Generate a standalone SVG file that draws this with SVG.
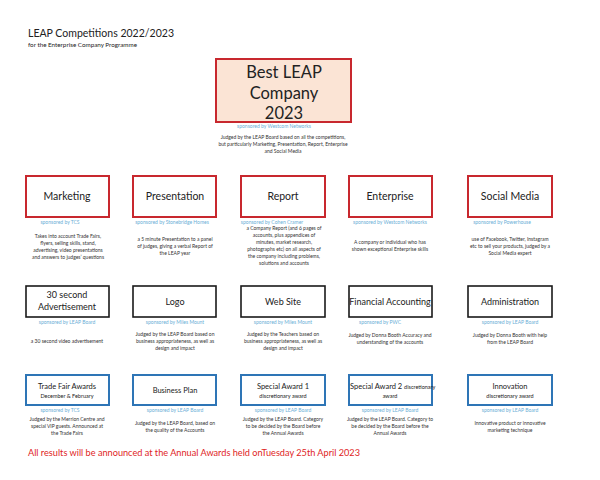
<svg xmlns="http://www.w3.org/2000/svg" width="600" height="480" viewBox="0 0 600 480">
<style>
text { font-family: Lato, "Open Sans", "Liberation Sans", sans-serif; }
.br { fill: #fff; stroke: #c8282e; stroke-width: 2; }
.bk { fill: #fff; stroke: #1a1a1a; stroke-width: 1.6; }
.bb { fill: #fff; stroke: #2e75b6; stroke-width: 2; }
.top { fill: #fbe4d5; stroke: #c8282e; stroke-width: 2; }
.l1 { font-size: 10.5px; fill: #222; text-anchor: middle; }
.l2 { font-size: 9px; fill: #222; text-anchor: middle; }
.l3 { font-size: 7.5px; fill: #222; text-anchor: middle; }
.l3s { font-size: 5.5px; fill: #222; text-anchor: middle; }
.sp { font-size: 5px; fill: #6aaed6; text-anchor: middle; }
.d { font-size: 5px; fill: #333; text-anchor: middle; }
</style>
<rect width="600" height="480" fill="#fff"/>
<g id="title">
<text x="28" y="37" font-size="11.5" fill="#222" textLength="146" lengthAdjust="spacingAndGlyphs">LEAP Competitions 2022/2023</text>
<text x="28" y="47" font-size="5.8" fill="#222" textLength="109" lengthAdjust="spacingAndGlyphs">for the Enterprise Company Programme</text>
</g>
<g id="best">
<rect class="top" x="216" y="59" width="135" height="63"/>
<text x="284" y="78" font-size="16.5" fill="#222" text-anchor="middle">Best LEAP</text>
<text x="284" y="98.5" font-size="16.5" fill="#222" text-anchor="middle">Company</text>
<text x="284" y="119" font-size="16.5" fill="#222" text-anchor="middle">2023</text>
<text class="sp" x="274" y="128">sponsored by Westcom Networks</text>
<text class="d" x="283" y="139">Judged by the LEAP Board based on all the competitions,</text>
<text class="d" x="283" y="146">but particularly Marketing, Presentation, Report, Enterprise</text>
<text class="d" x="283" y="153">and Social Media</text>
</g>
<g id="marketing">
<rect class="br" x="26" y="176" width="83" height="41"/>
<text class="l1" x="67" y="200">Marketing</text>
<text class="sp" x="60" y="224">sponsored by TCS</text>
<text class="d" x="68" y="238">Takes into account Trade Fairs,</text>
<text class="d" x="68" y="245">flyers, selling skills, stand,</text>
<text class="d" x="68" y="252">advertising, video presentations</text>
<text class="d" x="68" y="259">and answers to judges’ questions</text>
</g>
<g id="presentation">
<rect class="br" x="133" y="176" width="83" height="41"/>
<text class="l1" x="175" y="200">Presentation</text>
<text class="sp" x="172" y="224">sponsored by Stonebridge Homes</text>
<text class="d" x="175" y="241">a 5 minute Presentation to a panel</text>
<text class="d" x="175" y="248">of judges, giving a verbal Report of</text>
<text class="d" x="175" y="255">the LEAP year</text>
</g>
<g id="report">
<rect class="br" x="241" y="176" width="84" height="41"/>
<text class="l1" x="283" y="200">Report</text>
<text class="sp" x="272" y="224">sponsored by Cohen Cramer</text>
<text class="d" x="284" y="229.5">a Company Report (and 6 pages of</text>
<text class="d" x="284" y="236.5">accounts, plus appendices of</text>
<text class="d" x="284" y="243.5">minutes, market research,</text>
<text class="d" x="284" y="251">photographs etc) on all aspects of</text>
<text class="d" x="284" y="258">the company including problems,</text>
<text class="d" x="284" y="265">solutions and accounts</text>
</g>
<g id="enterprise">
<rect class="br" x="349" y="176" width="83" height="41"/>
<text class="l1" x="390" y="200">Enterprise</text>
<text class="sp" x="390" y="224">sponsored by Westcom Networks</text>
<text class="d" x="390" y="244">A company or individual who has</text>
<text class="d" x="390" y="251">shown exceptional Enterprise skills</text>
</g>
<g id="social-media">
<rect class="br" x="468" y="176" width="84" height="41"/>
<text class="l1" x="510" y="200">Social Media</text>
<text class="sp" x="502" y="224">sponsored by Powerhouse</text>
<text class="d" x="510" y="241">use of Facebook, Twitter, Instagram</text>
<text class="d" x="510" y="248">etc to sell your products, judged by a</text>
<text class="d" x="510" y="255">Social Media expert</text>
</g>
<g id="advertisement">
<rect class="bk" x="26" y="286" width="83" height="31"/>
<text class="l2" x="67" y="298">30 second</text>
<text class="l2" x="67" y="310">Advertisement</text>
<text class="sp" x="67" y="324">sponsored by LEAP Board</text>
<text class="d" x="67" y="343">a 30 second video advertisement</text>
</g>
<g id="logo">
<rect class="bk" x="133" y="286" width="83" height="31"/>
<text class="l2" x="175" y="305">Logo</text>
<text class="sp" x="175" y="324">sponsored by Miles Mount</text>
<text class="d" x="175" y="336">Judged by the LEAP Board based on</text>
<text class="d" x="175" y="343">business appropriateness, as well as</text>
<text class="d" x="175" y="350">design and impact</text>
</g>
<g id="web-site">
<rect class="bk" x="241" y="286" width="84" height="31"/>
<text class="l2" x="283" y="305">Web Site</text>
<text class="sp" x="283" y="324">sponsored by Miles Mount</text>
<text class="d" x="283" y="336">Judged by the Teachers based on</text>
<text class="d" x="283" y="343">business appropriateness, as well as</text>
<text class="d" x="283" y="350">design and impact</text>
</g>
<g id="financial-accounting">
<rect class="bk" x="349" y="286" width="83" height="31"/>
<text class="l2" x="390" y="305">Financial Accounting</text>
<text class="sp" x="380" y="324">sponsored by PWC</text>
<text class="d" x="390" y="337">Judged by Donna Booth  Accuracy and</text>
<text class="d" x="390" y="344">understanding of the accounts</text>
</g>
<g id="administration">
<rect class="bk" x="468" y="286" width="84" height="31"/>
<text class="l2" x="510" y="305">Administration</text>
<text class="sp" x="510" y="324">sponsored by LEAP Board</text>
<text class="d" x="510" y="337">Judged by Donna Booth with help</text>
<text class="d" x="510" y="344">from the LEAP Board</text>
</g>
<g id="trade-fair">
<rect class="bb" x="26" y="375" width="83" height="30"/>
<text class="l3" x="67" y="389">Trade Fair Awards</text>
<text class="l3s" x="67" y="398">December &amp; February</text>
<text class="sp" x="60" y="412">sponsored by TCS</text>
<text class="d" x="67" y="421">Judged by the Merrion Centre and</text>
<text class="d" x="67" y="428">special VIP guests.   Announced at</text>
<text class="d" x="67" y="435">the Trade Fairs</text>
</g>
<g id="business-plan">
<rect class="bb" x="133" y="375" width="83" height="30"/>
<text class="l3" x="175" y="393">Business Plan</text>
<text class="sp" x="175" y="412">sponsored by LEAP Board</text>
<text class="d" x="175" y="425">Judged by the LEAP Board, based on</text>
<text class="d" x="175" y="432">the quality of the Accounts</text>
</g>
<g id="special-award-1">
<rect class="bb" x="241" y="375" width="84" height="30"/>
<text class="l3" x="283" y="389">Special Award 1</text>
<text class="l3s" x="283" y="398">discretionary award</text>
<text class="sp" x="283" y="412">sponsored by LEAP Board</text>
<text class="d" x="283" y="421">Judged by the LEAP Board.  Category</text>
<text class="d" x="283" y="428">to be decided by the Board before</text>
<text class="d" x="283" y="435">the Annual Awards</text>
</g>
<g id="special-award-2">
<rect class="bb" x="349" y="375" width="83" height="30"/>
<text x="350" y="389" fill="#222"><tspan font-size="7.5">Special Award 2 </tspan><tspan font-size="5.5">discretionary</tspan></text>
<text class="l3s" x="390" y="398">award</text>
<text class="sp" x="390" y="412">sponsored by LEAP Board</text>
<text class="d" x="390" y="421">Judged by the LEAP Board.  Category to</text>
<text class="d" x="390" y="428">be decided by the Board before the</text>
<text class="d" x="390" y="435">Annual Awards</text>
</g>
<g id="innovation">
<rect class="bb" x="468" y="375" width="84" height="30"/>
<text class="l3" x="510" y="389">Innovation</text>
<text class="l3s" x="510" y="398">discretionary award</text>
<text class="sp" x="510" y="412">sponsored by LEAP Board</text>
<text class="d" x="510" y="425">Innovative product or innovative</text>
<text class="d" x="510" y="432">marketing technique</text>
</g>
<g id="footer">
<text x="28" y="456" font-size="10" fill="#e02424" textLength="332" lengthAdjust="spacingAndGlyphs">All results will be announced at the Annual Awards held onTuesday 25th April 2023</text>
</g>
</svg>
